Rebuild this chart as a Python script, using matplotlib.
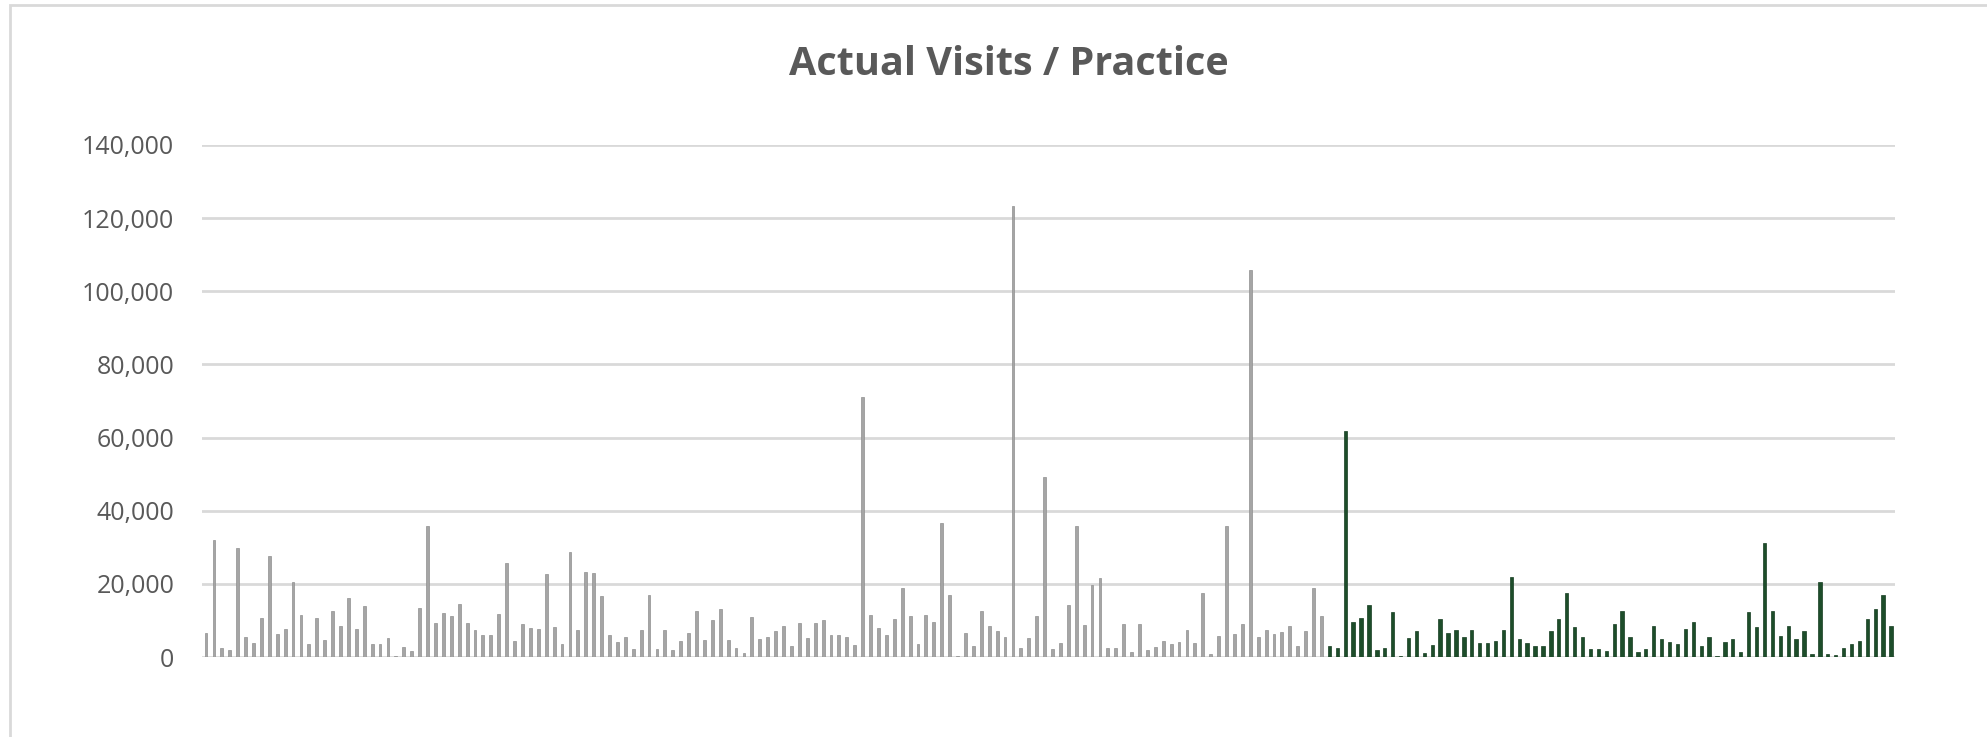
import matplotlib
matplotlib.use("Agg")
import matplotlib.pyplot as plt
from matplotlib.patches import Rectangle
from matplotlib.ticker import FuncFormatter

title = "Actual Visits / Practice"

# values in thousands of visits
grey_values = [
    6.6, 32.1, 2.5, 2.0, 29.7, 5.5, 3.9, 10.8, 27.7, 6.4,
    7.7, 20.5, 11.5, 3.7, 10.6, 4.6, 12.6, 8.5, 16.1, 7.6,
    13.9, 3.6, 3.6, 5.1, 0.2, 2.7, 1.6, 13.3, 35.7, 9.4,
    12.1, 11.2, 14.4, 9.4, 7.4, 6.0, 6.0, 11.8, 25.6, 4.5,
    9.0, 7.9, 7.6, 22.7, 8.2, 3.5, 28.6, 7.4, 23.3, 23.0,
    16.8, 6.0, 4.1, 5.5, 2.2, 7.5, 17.0, 2.2, 7.4, 1.8,
    4.5, 6.7, 12.5, 4.7, 10.1, 13.2, 4.6, 2.5, 1.2, 11.0,
    5.0, 5.5, 7.1, 8.5, 2.9, 9.3, 5.3, 9.2, 10.2, 6.1,
    6.1, 5.4, 3.3, 71.1, 11.4, 8.0, 5.9, 10.5, 18.9, 11.2,
    3.6, 11.6, 9.7, 36.6, 17.0, 0.4, 6.7, 3.1, 12.5, 8.4,
    7.0, 5.5, 123.4, 2.6, 5.1, 11.2, 49.1, 2.3, 3.8, 14.1,
    35.8, 8.8, 19.8, 21.5, 2.6, 2.6, 8.9, 1.4, 9.1, 1.9,
    2.7, 4.5, 3.5, 4.1, 7.5, 3.9, 17.5, 0.9, 5.7, 35.8,
    6.2, 9.0, 105.8, 5.5, 7.3, 6.4, 6.9, 8.5, 3.0, 7.2,
    18.8, 11.1,
]
green_values = [
    2.9, 2.4, 61.8, 9.5, 10.6, 14.3, 1.8, 2.5, 12.3, 0.3,
    5.3, 7.1, 1.2, 3.2, 10.5, 6.5, 7.3, 5.4, 7.3, 3.8,
    3.9, 4.5, 7.5, 21.8, 4.8, 3.9, 2.9, 3.0, 7.0, 10.5,
    17.5, 8.2, 5.5, 2.1, 2.2, 1.6, 9.1, 12.7, 5.5, 1.4,
    2.1, 8.4, 4.8, 4.0, 3.5, 7.8, 9.5, 2.9, 5.4, 0.4,
    4.1, 4.9, 1.4, 12.3, 8.2, 31.2, 12.7, 5.8, 8.6, 5.0,
    7.0, 0.9, 20.6, 0.7, 0.5, 2.5, 3.5, 4.3, 10.4, 13.2,
    17.0, 8.6,
]
y_ticks = [0, 20000, 40000, 60000, 80000, 100000, 120000, 140000]

n_grey = len(grey_values)
n_green = len(green_values)
x_grey = list(range(n_grey))
x_green = list(range(n_grey, n_grey + n_green))

fig = plt.figure(figsize=(19.87, 7.37), dpi=100)
fig.patch.set_facecolor("white")
fig.patches.append(Rectangle((0.005, -0.01), 1.2, 1.003, transform=fig.transFigure,
                             fill=False, edgecolor="#d9d9d9", linewidth=2))

ax = fig.add_axes([0.1017, 0.1085, 0.852, 0.6948])
ax.bar(x_grey, [v * 1000 for v in grey_values], width=0.36, color="#a5a5a5",
       edgecolor="#8f8f8f", linewidth=0.5, zorder=3)
ax.bar(x_green, [v * 1000 for v in green_values], width=0.42, color="#1d4d2a",
       edgecolor="#153d20", linewidth=0.5, zorder=3)

ax.set_xlim(-0.5, n_grey + n_green - 0.5)
ax.set_ylim(0, 140000)
ax.set_yticks(y_ticks)
ax.yaxis.set_major_formatter(FuncFormatter(lambda v, p: f"{int(v):,}"))
ax.set_xticks([])
ax.grid(axis="y", color="#d9d9d9", linewidth=2, zorder=0)
for s in ax.spines.values():
    s.set_visible(False)
ax.tick_params(axis="y", length=0, pad=20, labelsize=18, labelcolor="#595959")
for lab in ax.get_yticklabels():
    lab.set_fontfamily("Open Sans")

fig.text(0.5075, 0.898, title, ha="center", va="baseline", fontsize=28.5,
         fontweight="bold", color="#595959", fontfamily="Open Sans")

fig.savefig("out.png", dpi=100, facecolor="white")
